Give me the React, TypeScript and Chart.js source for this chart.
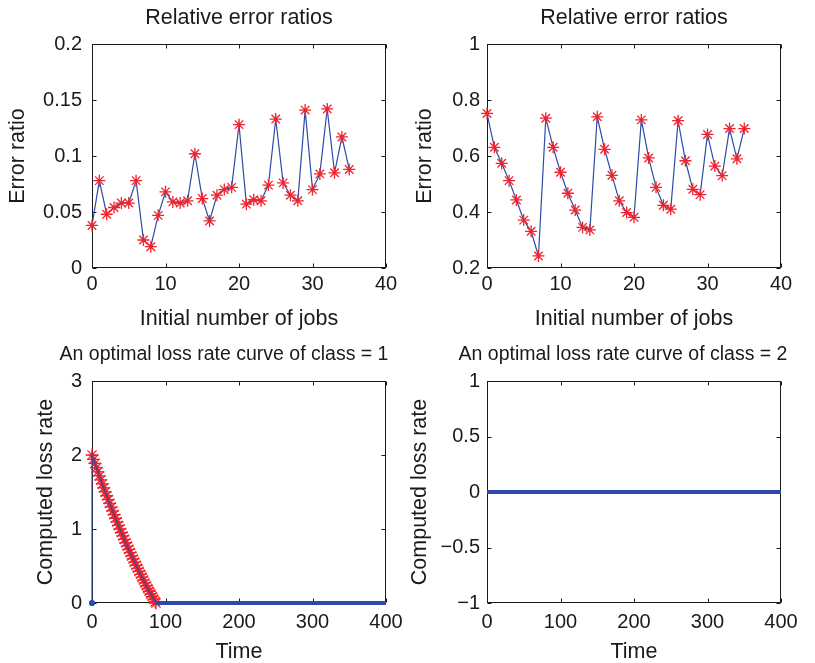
import React, { useEffect, useRef } from "react";
import { Chart, registerables } from "chart.js";

Chart.register(...registerables);

// ---------- data ----------
const jobs = [0, 1, 2, 3, 4, 5, 6, 7, 8, 9, 10, 11, 12, 13, 14, 15, 16, 17, 18, 19, 20, 21, 22, 23, 24, 25, 26, 27, 28, 29, 30, 31, 32, 33, 34, 35];

const errorRatioClass1 = [
  0.038, 0.078, 0.048, 0.054, 0.058, 0.058, 0.078, 0.025, 0.019, 0.047,
  0.068, 0.059, 0.058, 0.060, 0.102, 0.062, 0.042, 0.065, 0.070, 0.072,
  0.128, 0.057, 0.061, 0.060, 0.074, 0.133, 0.076, 0.065, 0.060, 0.141,
  0.070, 0.084, 0.142, 0.085, 0.117, 0.088,
];

const errorRatioClass2 = [
  0.752, 0.631, 0.574, 0.512, 0.443, 0.371, 0.331, 0.243, 0.735, 0.631,
  0.542, 0.467, 0.407, 0.345, 0.336, 0.740, 0.624, 0.531, 0.440, 0.398,
  0.381, 0.729, 0.593, 0.488, 0.424, 0.410, 0.726, 0.583, 0.481, 0.462,
  0.677, 0.564, 0.530, 0.698, 0.590, 0.698,
];

const curveTime = [
  0, 2, 4, 6, 8, 10, 12, 14, 16, 18, 20, 22, 24, 26, 28, 30, 32, 34, 36, 38,
  40, 42, 44, 46, 48, 50, 52, 54, 56, 58, 60, 62, 64, 66, 68, 70, 72, 74, 76, 78,
  80, 82, 84, 86, 87,
];
const curveLossRate = [
  2.0, 1.942, 1.886, 1.829, 1.773, 1.718, 1.663, 1.609, 1.555, 1.502,
  1.449, 1.397, 1.346, 1.295, 1.244, 1.194, 1.145, 1.096, 1.048, 1.0,
  0.953, 0.906, 0.86, 0.814, 0.769, 0.725, 0.681, 0.637, 0.595, 0.552,
  0.51, 0.469, 0.429, 0.388, 0.349, 0.31, 0.271, 0.233, 0.196, 0.159,
  0.123, 0.087, 0.052, 0.017, 0.0,
];
const lineStartTime = 0;
const lineStartRate = 0;

const zeroTime1 = [87, 400];
const zeroRate1 = [0, 0];
const zeroTime2 = [0, 400];
const zeroRate2 = [0, 0];

const jobsTicks = [0, 10, 20, 30, 40];
const jobsTickLabels = ["0", "10", "20", "30", "40"];
const ratioTicks1 = [0, 0.05, 0.1, 0.15, 0.2];
const ratioTickLabels1 = ["0", "0.05", "0.1", "0.15", "0.2"];
const ratioTicks2 = [0.2, 0.4, 0.6, 0.8, 1];
const ratioTickLabels2 = ["0.2", "0.4", "0.6", "0.8", "1"];
const timeTicks = [0, 100, 200, 300, 400];
const timeTickLabels = ["0", "100", "200", "300", "400"];
const lossTicks1 = [0, 1, 2, 3];
const lossTickLabels1 = ["0", "1", "2", "3"];
const lossTicks2 = [-1, -0.5, 0, 0.5, 1];
const lossTickLabels2 = ["\u22121", "\u22120.5", "0", "0.5", "1"];

// ---------- style ----------
const FONT = "'Liberation Sans', Arial, Helvetica, sans-serif";
const INK = "#1a1a1a";
const BLUE = "#2d4ba6";
const RED = "#f2212b";
const TICK_SIZE = 20;
const LABEL_SIZE = 21.5;

const toXY = (xs: number[], ys: number[]) => xs.map((x, i) => ({ x, y: ys[i] }));

const boxPlugin = {
  id: "matlabBox",
  beforeDatasetsDraw(chart: any) {
    const { ctx, chartArea: a, scales } = chart;
    const L = 4;
    const l = Math.round(a.left) + 0.5;
    const r = Math.round(a.right) - 0.5;
    const t = Math.round(a.top) + 0.5;
    const b = Math.round(a.bottom) - 0.5;
    ctx.save();
    ctx.strokeStyle = INK;
    ctx.lineWidth = 1;
    ctx.strokeRect(l, t, r - l, b - t);
    ctx.beginPath();
    scales.x.ticks.forEach((tk: any) => {
      const px = Math.round(scales.x.getPixelForValue(tk.value)) + 0.5;
      ctx.moveTo(px, b);
      ctx.lineTo(px, b - L);
      ctx.moveTo(px, t);
      ctx.lineTo(px, t + L);
    });
    scales.y.ticks.forEach((tk: any) => {
      const py = Math.round(scales.y.getPixelForValue(tk.value)) + 0.5;
      ctx.moveTo(l, py);
      ctx.lineTo(l + L, py);
      ctx.moveTo(r, py);
      ctx.lineTo(r - L, py);
    });
    ctx.stroke();
    ctx.restore();
  },
};

type PanelSpec = {
  title: string;
  titleSize: number;
  titlePad: { top: number; bottom: number };
  rightSpace: number;
  x: { min: number; max: number; ticks: number[]; labels: string[]; title: string; height: number; tickPad: number; titlePadBottom: number };
  y: { min: number; max: number; ticks: number[]; labels: string[]; title: string; width: number; tickPad: number; titlePadTop: number };
  datasets: any[];
};

function makeConfig(p: PanelSpec): any {
  const tickFont = { family: FONT, size: TICK_SIZE, weight: "normal" as const };
  const labelFont = { family: FONT, size: LABEL_SIZE, weight: "normal" as const };
  const titleFont = { family: FONT, size: p.titleSize, weight: "normal" as const };
  return {
    type: "line",
    data: { datasets: p.datasets.map((d) => ({ yAxisID: "y", ...d })) },
    plugins: [boxPlugin],
    options: {
      animation: false,
      responsive: false,
      devicePixelRatio: 1,
      layout: { padding: 0 },
      plugins: {
        legend: { display: false },
        tooltip: { enabled: false },
        title: { display: true, text: p.title, font: titleFont, color: INK, padding: p.titlePad },
      },
      scales: {
        x: {
          type: "linear",
          min: p.x.min,
          max: p.x.max,
          afterBuildTicks: (s: any) => {
            s.ticks = p.x.ticks.map((v) => ({ value: v }));
          },
          afterFit: (s: any) => {
            s.height = p.x.height;
          },
          grid: { display: false, drawTicks: false },
          border: { display: false },
          ticks: {
            font: tickFont,
            color: INK,
            padding: p.x.tickPad,
            maxRotation: 0,
            autoSkip: false,
            callback: (_v: any, i: number) => p.x.labels[i],
          },
          title: { display: true, text: p.x.title, font: labelFont, color: INK, padding: { top: 0, bottom: p.x.titlePadBottom } },
        },
        y: {
          type: "linear",
          position: "left",
          min: p.y.min,
          max: p.y.max,
          afterBuildTicks: (s: any) => {
            s.ticks = p.y.ticks.map((v) => ({ value: v }));
          },
          afterFit: (s: any) => {
            s.width = p.y.width;
          },
          grid: { display: false, drawTicks: false },
          border: { display: false },
          ticks: {
            font: tickFont,
            color: INK,
            padding: p.y.tickPad,
            autoSkip: false,
            callback: (_v: any, i: number) => p.y.labels[i],
          },
          title: { display: true, text: p.y.title, font: labelFont, color: INK, padding: { top: p.y.titlePadTop, bottom: 0 } },
        },
        ySpace: {
          type: "linear",
          position: "right",
          min: 0,
          max: 1,
          afterFit: (s: any) => {
            s.width = p.rightSpace;
          },
          grid: { display: false, drawTicks: false },
          border: { display: false },
          ticks: { display: false },
          title: { display: false },
        },
      },
    },
  };
}

const ratioDataset = (values: number[]) => ({
  data: toXY(jobs, values),
  borderColor: BLUE,
  borderWidth: 1.2,
  tension: 0,
  pointStyle: "star",
  pointRadius: 6,
  pointBorderColor: RED,
  pointBackgroundColor: RED,
  pointBorderWidth: 1.3,
  clip: false,
});

const panels: { left: number; top: number; width: number; height: number; spec: PanelSpec }[] = [
  {
    left: 0,
    top: 0,
    width: 478,
    height: 335,
    spec: {
      title: "Relative error ratios",
      titleSize: LABEL_SIZE,
      titlePad: { top: 5.1, bottom: 13.1 },
      rightSpace: 92,
      x: { min: 0, max: 40, ticks: jobsTicks, labels: jobsTickLabels, title: "Initial number of jobs", height: 67, tickPad: 4, titlePadBottom: 3.1 },
      y: { min: 0, max: 0.2, ticks: ratioTicks1, labels: ratioTickLabels1, title: "Error ratio", width: 92, tickPad: 10, titlePadTop: 5.1 },
      datasets: [ratioDataset(errorRatioClass1)],
    },
  },
  {
    left: 400,
    top: 0,
    width: 468,
    height: 335,
    spec: {
      title: "Relative error ratios",
      titleSize: LABEL_SIZE,
      titlePad: { top: 5.1, bottom: 13.1 },
      rightSpace: 87,
      x: { min: 0, max: 40, ticks: jobsTicks, labels: jobsTickLabels, title: "Initial number of jobs", height: 67, tickPad: 4, titlePadBottom: 3.1 },
      y: { min: 0.2, max: 1, ticks: ratioTicks2, labels: ratioTickLabels2, title: "Error ratio", width: 87, tickPad: 7, titlePadTop: 12.1 },
      datasets: [ratioDataset(errorRatioClass2)],
    },
  },
  {
    left: 0,
    top: 335,
    width: 448,
    height: 330,
    spec: {
      title: "An optimal loss rate curve of class = 1",
      titleSize: 19.5,
      titlePad: { top: 8.3, bottom: 14.3 },
      rightSpace: 62,
      x: { min: 0, max: 400, ticks: timeTicks, labels: timeTickLabels, title: "Time", height: 62, tickPad: 7, titlePadBottom: 0.1 },
      y: { min: 0, max: 3, ticks: lossTicks1, labels: lossTickLabels1, title: "Computed loss rate", width: 92, tickPad: 10, titlePadTop: 33.1 },
      datasets: [
        {
          data: [{ x: lineStartTime, y: lineStartRate }, ...toXY(curveTime, curveLossRate)],
          borderColor: BLUE,
          borderWidth: 1.2,
          tension: 0,
          pointRadius: (c: any) => (c.dataIndex === 0 ? 2.5 : 0),
          pointBackgroundColor: BLUE,
          pointBorderColor: BLUE,
          clip: false,
        },
        {
          data: toXY(zeroTime1, zeroRate1),
          borderColor: BLUE,
          borderWidth: 4,
          tension: 0,
          pointRadius: 0,
          clip: false,
        },
        {
          data: toXY(curveTime, curveLossRate),
          showLine: false,
          pointStyle: "star",
          pointRadius: 6.5,
          pointBorderColor: RED,
          pointBackgroundColor: RED,
          pointBorderWidth: 1.3,
          clip: false,
        },
      ],
    },
  },
  {
    left: 400,
    top: 335,
    width: 446,
    height: 330,
    spec: {
      title: "An optimal loss rate curve of class = 2",
      titleSize: 19.5,
      titlePad: { top: 8.3, bottom: 14.3 },
      rightSpace: 65,
      x: { min: 0, max: 400, ticks: timeTicks, labels: timeTickLabels, title: "Time", height: 62, tickPad: 7, titlePadBottom: 0.1 },
      y: { min: -1, max: 1, ticks: lossTicks2, labels: lossTickLabels2, title: "Computed loss rate", width: 87, tickPad: 7, titlePadTop: 7.1 },
      datasets: [
        {
          data: toXY(zeroTime2, zeroRate2),
          borderColor: BLUE,
          borderWidth: 4,
          tension: 0,
          pointRadius: 0,
          clip: false,
        },
      ],
    },
  },
];

function Panel({ left, top, width, height, spec }: { left: number; top: number; width: number; height: number; spec: PanelSpec }) {
  const ref = useRef<HTMLCanvasElement | null>(null);
  useEffect(() => {
    if (!ref.current) return;
    const chart = new Chart(ref.current, makeConfig(spec));
    return () => chart.destroy();
  }, []);
  return (
    <canvas
      ref={ref}
      width={width}
      height={height}
      style={{ position: "absolute", left, top, width, height }}
    />
  );
}

export default function App() {
  return (
    <div
      style={{
        position: "fixed",
        left: 0,
        top: 0,
        width: 815,
        height: 663,
        overflow: "hidden",
        background: "#ffffff",
      }}
    >
      {panels.map((p, i) => (
        <Panel key={i} {...p} />
      ))}
    </div>
  );
}
